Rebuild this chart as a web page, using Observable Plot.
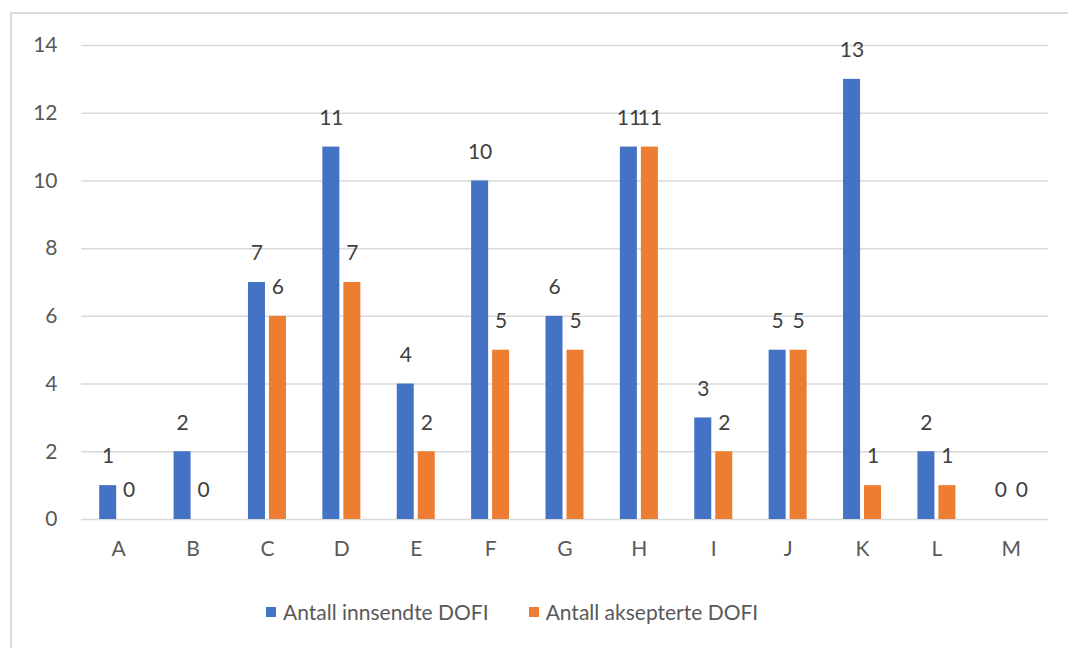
<!DOCTYPE html>
<html>
<head>
<meta charset="utf-8">
<script src="https://cdn.jsdelivr.net/npm/d3@7"></script>
<script src="https://cdn.jsdelivr.net/npm/@observablehq/plot@0.6"></script>
<style>
  html, body { margin: 0; padding: 0; background: #fff; }
  body { width: 1068px; height: 648px; position: relative; overflow: hidden; font-family: Lato, "Open Sans", sans-serif; }
  #frame { position: absolute; left: 10px; top: 12px; width: 1100px; height: 700px; border-left: 2px solid #d9d9d9; border-top: 2px solid #d9d9d9; }
  #chart { position: absolute; left: 0; top: 0; }
  #legend { position: absolute; top: 599px; left: 266px; display: flex; font-size: 21px; color: #595959; }
  .item { display: flex; align-items: center; }
  .sw { width: 10px; height: 10px; margin-right: 7px; }
</style>
</head>
<body>
<div id="frame"></div>
<div id="chart"></div>
<div id="legend"></div>
<script>
const categories = ["A","B","C","D","E","F","G","H","I","J","K","L","M"];
const seriesNames = ["Antall innsendte DOFI", "Antall aksepterte DOFI"];
const innsendte = [1, 2, 7, 11, 4, 10, 6, 11, 3, 5, 13, 2, 0];
const aksepterte = [0, 0, 6, 7, 2, 5, 5, 11, 2, 5, 1, 1, 0];
const colors = ["#4472c4", "#ed7d31"];
const yTicks = [0, 2, 4, 6, 8, 10, 12, 14];

const rows1 = categories.map((c, i) => ({cat: c, value: innsendte[i], series: seriesNames[0]}));
const rows2 = categories.map((c, i) => ({cat: c, value: aksepterte[i], series: seriesNames[1]}));

const band = (1048 - 81) / categories.length;
const half = band / 2;

const chart = Plot.plot({
  width: 1068,
  height: 580,
  marginLeft: 81,
  marginRight: 20,
  marginTop: 45,
  marginBottom: 61,
  style: {fontFamily: "Lato, 'Open Sans', sans-serif", fontSize: "21px", color: "#595959", background: "transparent"},
  x: {domain: categories, padding: 0, round: false, label: null, tickSize: 0, tickPadding: 22},
  y: {domain: [0, 14], ticks: yTicks, label: null, tickSize: 0, tickPadding: 24},
  color: {domain: seriesNames, range: colors},
  marks: [
    Plot.ruleY(yTicks, {stroke: "#d9d9d9", strokeWidth: 1.5}),
    Plot.barY(rows1, {x: "cat", y: "value", fill: "series", insetLeft: half - 19, insetRight: half + 2}),
    Plot.barY(rows2, {x: "cat", y: "value", fill: "series", insetLeft: half + 2, insetRight: half - 19}),
    Plot.text(rows1, {x: "cat", y: "value", text: d => String(d.value), dx: -10.5, dy: -29, fill: "#404040", fontSize: 21}),
    Plot.text(rows2, {x: "cat", y: "value", text: d => String(d.value), dx: 10.5, dy: -29, fill: "#404040", fontSize: 21})
  ]
});
document.getElementById("chart").appendChild(chart);

const legend = document.getElementById("legend");
seriesNames.forEach((name, i) => {
  const item = document.createElement("div");
  item.className = "item";
  if (i > 0) item.style.marginLeft = "40px";
  const sw = document.createElement("div");
  sw.className = "sw";
  sw.style.background = colors[i];
  const t = document.createElement("span");
  t.textContent = name;
  item.appendChild(sw);
  item.appendChild(t);
  legend.appendChild(item);
});
</script>
</body>
</html>
